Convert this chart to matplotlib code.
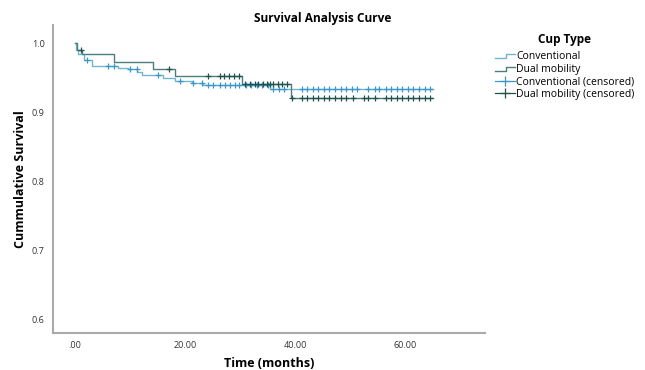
import numpy as np
import matplotlib.pyplot as plt
from matplotlib.lines import Line2D
from matplotlib.legend_handler import HandlerBase

plt.rcParams['font.family'] = ['Open Sans', 'DejaVu Sans']

# step functions: event time, survival after the event
conv_t = [0.0, 0.2, 0.6, 1.6, 3.1, 7.8, 9.7, 11.3, 12.2, 16.0, 18.2, 21.2, 23.3, 35.5, 65.0]
conv_s = [1.0, 0.990, 0.984, 0.976, 0.967, 0.964, 0.962, 0.958, 0.954, 0.950, 0.946, 0.943, 0.939, 0.934, 0.934]
dual_t = [0.0, 0.3, 1.2, 7.1, 14.2, 18.2, 30.4, 39.3, 65.0]
dual_s = [1.0, 0.990, 0.984, 0.973, 0.962, 0.953, 0.941, 0.921, 0.921]

# censored times
conv_cens = [2.1, 6.0, 7.1, 10.0, 11.2, 15.1, 19.1, 21.5, 23.1, 24.2, 25.1, 26.4, 27.3,
             28.2, 29.1, 29.8, 31.0, 32.0, 33.0, 34.0, 35.0, 36.0, 37.0, 38.0,
             41.2, 42.2, 43.2, 44.2, 45.3, 46.2, 47.3, 48.3, 49.3, 50.3, 51.3,
             53.3, 54.4, 55.3, 56.4, 57.4, 58.4, 59.4, 60.4, 61.4, 62.4, 63.5, 64.5]
dual_cens = [1.0, 17.1, 24.2, 26.4, 27.1, 28.0, 28.9, 29.8, 30.9, 31.8, 32.7, 33.3, 34.2,
             34.9, 35.5, 36.0, 36.9, 37.6, 38.5, 39.5, 41.2, 42.2, 43.3, 44.2, 45.3,
             46.2, 47.3, 48.3, 49.3, 50.5, 52.4, 53.3, 54.4, 56.5, 57.4, 58.4, 59.4,
             60.4, 61.4, 62.4, 63.5, 64.5]

labels = ['Conventional', 'Dual mobility', 'Conventional (censored)', 'Dual mobility (censored)']

c_conv, c_conv_m = '#72b6cc', '#3a97c9'
c_dual, c_dual_m = '#4f7f7c', '#22504c'


def surv_at(ts, ss, t):
    i = np.searchsorted(ts, t, side='right') - 1
    return np.array(ss)[i]


class StepHandler(HandlerBase):
    def create_artists(self, legend, orig, x0, y0, w, h, fontsize, trans):
        xs = [x0, x0 + w * 0.55, x0 + w * 0.55, x0 + w]
        ys = [y0 + h * 0.15, y0 + h * 0.15, y0 + h * 0.75, y0 + h * 0.75]
        ln = Line2D(xs, ys, color=orig.get_color(), lw=1.0, transform=trans)
        return [ln]


fig = plt.figure(figsize=(6.45, 3.70), dpi=100)
ax = fig.add_axes([0.0822, 0.1, 0.670, 0.832])

l1, = ax.step(conv_t, conv_s, where='post', color=c_conv, lw=1.0)
l2, = ax.step(dual_t, dual_s, where='post', color=c_dual, lw=1.0)
ax.plot(conv_cens, surv_at(conv_t, conv_s, conv_cens), '+', color=c_conv_m,
        ms=5, mew=0.9, ls='none')
ax.plot(dual_cens, surv_at(dual_t, dual_s, dual_cens), '+', color=c_dual_m,
        ms=5, mew=0.9, ls='none')

ax.set_xlim(-4, 74.5)
ax.set_ylim(0.581, 1.026)
ax.set_xticks([0, 20, 40, 60])
ax.set_xticklabels(['.00', '20.00', '40.00', '60.00'])
ax.set_yticks([0.6, 0.7, 0.8, 0.9, 1.0])
ax.set_yticklabels(['0.6', '0.7', '0.8', '0.9', '1.0'])
ax.tick_params(length=0, labelsize=6.5, colors='#333333', pad=6)
for s in ['top', 'right']:
    ax.spines[s].set_visible(False)
for s in ['left', 'bottom']:
    ax.spines[s].set_color('#aaaaaa')
    ax.spines[s].set_linewidth(1.5)

fig.suptitle('Survival Analysis Curve', fontsize=8.6, fontweight='bold', y=0.951, va='center')
ax.set_xlabel('Time (months)', fontsize=9, fontweight='bold', va='center')
ax.xaxis.set_label_coords(0.5, -0.1)
ax.set_ylabel('Cummulative Survival', fontsize=9, fontweight='bold', va='center')
ax.yaxis.set_label_coords(-0.076, 0.5)

m1 = Line2D([], [], color=c_conv_m, marker='+', ms=7, mew=0.9, lw=0.9)
m2 = Line2D([], [], color=c_dual_m, marker='+', ms=7, mew=0.9, lw=0.9)
fig.text(565 / 645, 1 - 40 / 370, 'Cup Type', fontsize=8.5, fontweight='bold',
         ha='center', va='center')
leg = fig.legend([l1, l2, m1, m2], labels,
                 handler_map={l1: StepHandler(), l2: StepHandler()},
                 loc='upper left', bbox_to_anchor=(0.768, 0.861), frameon=False,
                 fontsize=7.5, handlelength=1.9, handletextpad=0.1,
                 labelspacing=0.15, borderaxespad=0, borderpad=0)

fig.savefig('out.png', dpi=100)
